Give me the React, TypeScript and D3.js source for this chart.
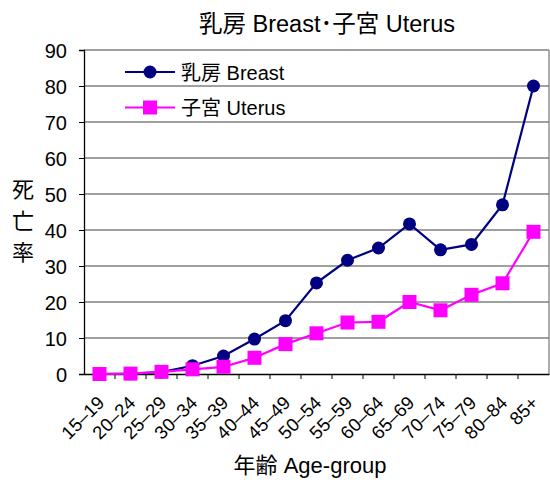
import { useEffect, useRef } from 'react'
import * as d3 from 'd3'

const ageGroups = ['15-19', '20-24', '25-29', '30-34', '35-39', '40-44', '45-49', '50-54', '55-59', '60-64', '65-69', '70-74', '75-79', '80-84', '85+']
const breast = [0.0, 0.1, 0.5, 2.3, 5.0, 9.7, 14.8, 25.3, 31.6, 35.0, 41.7, 34.5, 36.0, 47.0, 80.0]
const uterus = [0.0, 0.1, 0.6, 1.3, 2.0, 4.5, 8.3, 11.3, 14.3, 14.5, 20.0, 17.7, 22.0, 25.2, 39.5]
const yTicks = [0, 10, 20, 30, 40, 50, 60, 70, 80, 90]

const FONT = '"Liberation Sans", "Noto Sans CJK JP", sans-serif'

export default function App() {
  const svgRef = useRef<SVGSVGElement>(null)

  useEffect(() => {
    if (!svgRef.current) return
    const svg = d3.select(svgRef.current)
    svg.selectAll('*').remove()

    const width = 550
    const margin = { top: 50, right: 1, left: 84 }
    const chartWidth = width - margin.left - margin.right
    const chartHeight = 374 - margin.top

    const g = svg.append('g').attr('transform', `translate(${margin.left},${margin.top})`)

    const x = d3.scaleBand().domain(ageGroups).range([0, chartWidth])
    const y = d3.scaleLinear().domain([0, 90]).range([chartHeight, 0])
    const cx = (d: string) => (x(d) || 0) + x.bandwidth() / 2

    // gridlines
    g.selectAll('.grid')
      .data(yTicks.slice(1))
      .enter()
      .append('line')
      .attr('x1', 0)
      .attr('x2', chartWidth)
      .attr('y1', d => y(d))
      .attr('y2', d => y(d))
      .attr('stroke', '#808080')
      .attr('stroke-width', 1.3)

    // right border
    g.append('line')
      .attr('x1', chartWidth).attr('x2', chartWidth)
      .attr('y1', 0).attr('y2', chartHeight)
      .attr('stroke', '#808080').attr('stroke-width', 1.3)

    // Y axis
    const yAxis = g.append('g').call(d3.axisLeft(y).tickValues(yTicks).tickSize(5).tickFormat(d3.format('d')))
    yAxis.select('.domain').attr('stroke', '#000').attr('stroke-width', 1.3)
    yAxis.selectAll('line').attr('stroke', '#000')
    yAxis.selectAll('text')
      .attr('x', -17)
      .attr('dy', '0.36em')
      .style('font-family', FONT)
      .style('font-size', '20px')
      .style('fill', '#000')

    // X axis
    const xAxis = g.append('g')
      .attr('transform', `translate(0,${chartHeight})`)
      .call(d3.axisBottom(x).tickSize(0).tickFormat(() => ''))
    xAxis.select('.domain').attr('stroke', '#000').attr('stroke-width', 1.3)
    g.selectAll('.xtick')
      .data(ageGroups.slice(1))
      .enter()
      .append('line')
      .attr('x1', d => x(d) || 0)
      .attr('x2', d => x(d) || 0)
      .attr('y1', chartHeight)
      .attr('y2', chartHeight + 5)
      .attr('stroke', '#000')

    g.selectAll('.xlabel')
      .data(ageGroups)
      .enter()
      .append('text')
      .attr('transform', d => `translate(${cx(d) + 6},${chartHeight + 30}) rotate(-45)`)
      .attr('text-anchor', 'end')
      .style('font-family', FONT)
      .style('font-size', '18.5px')
      .style('fill', '#000')
      .text(d => d.replace('-', '\u2013'))

    const series = [
      { name: '乳房 Breast', values: breast, color: '#000080', marker: 'circle' },
      { name: '子宮 Uterus', values: uterus, color: '#FF00FF', marker: 'square' },
    ]

    const line = d3.line<number>()
      .x((_, i) => cx(ageGroups[i]))
      .y(d => y(d))

    series.forEach(s => {
      g.append('path')
        .datum(s.values)
        .attr('d', line)
        .attr('fill', 'none')
        .attr('stroke', s.color)
        .attr('stroke-width', 2.2)
    })

    series.forEach(s => {
      if (s.marker === 'circle') {
        g.selectAll(null)
          .data(s.values)
          .enter()
          .append('circle')
          .attr('cx', (_, i) => cx(ageGroups[i]))
          .attr('cy', d => y(d))
          .attr('r', 6.5)
          .attr('fill', s.color)
      } else {
        g.selectAll(null)
          .data(s.values)
          .enter()
          .append('rect')
          .attr('x', (_, i) => cx(ageGroups[i]) - 7)
          .attr('y', d => y(d) - 7)
          .attr('width', 14)
          .attr('height', 14)
          .attr('fill', s.color)
      }
    })

    // legend
    const legend = svg.append('g').attr('transform', 'translate(125,72)')
    series.forEach((s, i) => {
      const row = legend.append('g').attr('transform', `translate(0,${i * 35.5})`)
      row.append('line').attr('x1', 0).attr('x2', 50).attr('y1', 0).attr('y2', 0)
        .attr('stroke', s.color).attr('stroke-width', 2.2)
      if (s.marker === 'circle') {
        row.append('circle').attr('cx', 25).attr('cy', 0).attr('r', 6.5).attr('fill', s.color)
      } else {
        row.append('rect').attr('x', 18).attr('y', -7).attr('width', 14).attr('height', 14).attr('fill', s.color)
      }
      row.append('text')
        .attr('x', 56)
        .attr('y', 7.5)
        .style('font-family', FONT)
        .style('font-size', '20px')
        .style('fill', '#000')
        .text(s.name)
    })

    // title
    svg.append('text')
      .attr('x', 327)
      .attr('y', 32)
      .attr('text-anchor', 'middle')
      .style('font-family', FONT)
      .style('font-size', '23.5px')
      .style('fill', '#000')
      .text('乳房 Breast･子宮 Uterus')

    // y label (stacked)
    const yLabel = ['死', '亡', '率']
    svg.selectAll('.ylab')
      .data(yLabel)
      .enter()
      .append('text')
      .attr('x', 23)
      .attr('y', (_, i) => 197 + i * 31.5)
      .attr('text-anchor', 'middle')
      .style('font-family', FONT)
      .style('font-size', '22px')
      .style('fill', '#000')
      .text(d => d)

    // x label
    svg.append('text')
      .attr('x', 310)
      .attr('y', 473)
      .attr('text-anchor', 'middle')
      .style('font-family', FONT)
      .style('font-size', '22px')
      .style('fill', '#000')
      .text('年齢 Age-group')
  }, [])

  return (
    <svg ref={svgRef} width={550} height={489} style={{ position: 'absolute', left: 0, top: 0, background: '#fff' }} />
  )
}
